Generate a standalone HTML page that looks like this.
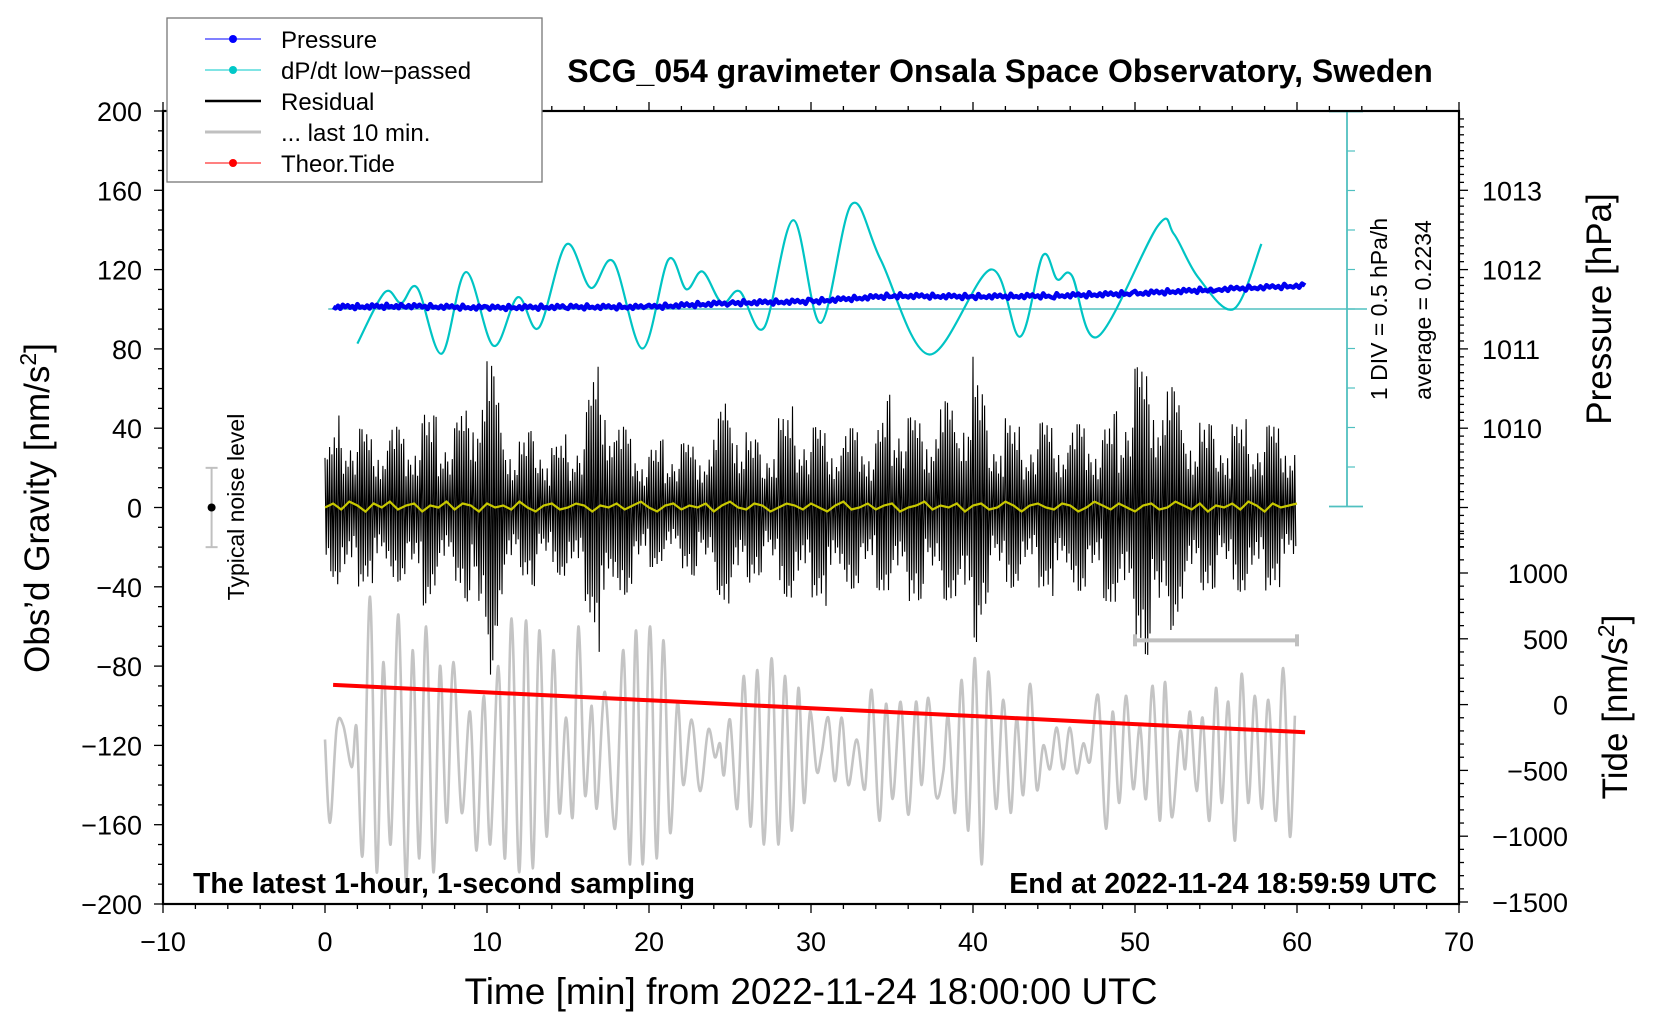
<!DOCTYPE html>
<html><head><meta charset="utf-8"><style>
html,body{margin:0;padding:0;background:#fff;}
svg{display:block;font-family:"Liberation Sans",sans-serif;}
</style></head><body>
<svg id="chart" width="1660" height="1020" viewBox="0 0 1660 1020" xmlns="http://www.w3.org/2000/svg">
<rect width="1660" height="1020" fill="#fff"/>
<g id="plot"></g>
<g id="axes"></g>
<text x="1000" y="82" text-anchor="middle" font-size="32" font-weight="bold">SCG_054 gravimeter Onsala Space Observatory, Sweden</text>
<text x="193" y="893" font-size="28.5" font-weight="bold">The latest 1-hour, 1-second sampling</text>
<text x="1437" y="893" text-anchor="end" font-size="28.5" font-weight="bold">End at 2022-11-24 18:59:59 UTC</text>
<text x="811" y="1004" text-anchor="middle" font-size="37">Time [min] from 2022-11-24 18:00:00 UTC</text>
<text transform="translate(49,508) rotate(-90)" text-anchor="middle" font-size="35">Obs’d Gravity [nm/s<tspan dy="-13" font-size="23">2</tspan><tspan dy="13">]</tspan></text>
<text transform="translate(1611,309) rotate(-90)" text-anchor="middle" font-size="35">Pressure [hPa]</text>
<text transform="translate(1627,707) rotate(-90)" text-anchor="middle" font-size="35">Tide [nm/s<tspan dy="-13" font-size="23">2</tspan><tspan dy="13">]</tspan></text>
<text transform="translate(1387,309) rotate(-90)" text-anchor="middle" font-size="23">1 DIV = 0.5 hPa/h</text>
<text transform="translate(1431,310) rotate(-90)" text-anchor="middle" font-size="23">average = 0.2234</text>
<text transform="translate(244,507) rotate(-90)" text-anchor="middle" font-size="23">Typical noise level</text>
<g>
<rect x="167" y="18" width="375" height="164" fill="#fff" stroke="#777" stroke-width="1.3"/>
<g><line x1="205" y1="39" x2="261" y2="39" stroke="#00f" stroke-width="1"/><circle cx="233" cy="39" r="4" fill="#00f"/><text x="281" y="48" font-size="24">Pressure</text></g>
<g><line x1="205" y1="70" x2="261" y2="70" stroke="#00c8c8" stroke-width="1"/><circle cx="233" cy="70" r="4" fill="#00c8c8"/><text x="281" y="79" font-size="24">dP/dt low−passed</text></g>
<g><line x1="205" y1="101" x2="261" y2="101" stroke="#000" stroke-width="2.5"/><text x="281" y="110" font-size="24">Residual</text></g>
<g><line x1="205" y1="132" x2="261" y2="132" stroke="#c0c0c0" stroke-width="3"/><text x="281" y="141" font-size="24">... last 10 min.</text></g>
<g><line x1="205" y1="163" x2="261" y2="163" stroke="#f00" stroke-width="1"/><circle cx="233" cy="163" r="4" fill="#f00"/><text x="281" y="172" font-size="24">Theor.Tide</text></g>
</g>
</svg>
<script>
// ---- data ----
const resMinutes = [0,1,2,3,4,5,6,7,8,9,10,11,12,13,14,15,16,17,18,19,20,21,22,23,24,25,26,27,28,29,30,31,32,33,34,35,36,37,38,39,40,41,42,43,44,45,46,47,48,49,50,51,52,53,54,55,56,57,58,59,60];
const resTop = [25,50,40,38,45,35,50,45,40,60,82,45,35,40,30,38,42,85,45,35,30,35,32,35,38,62,40,30,45,52,40,42,40,40,38,60,45,48,55,50,80,40,45,40,42,45,42,42,40,50,70,75,65,50,45,40,42,45,40,45,40];
const resBot = [-25,-45,-40,-38,-40,-35,-50,-42,-38,-50,-95,-45,-35,-40,-30,-38,-45,-75,-48,-40,-30,-30,-32,-35,-38,-55,-42,-32,-40,-50,-45,-50,-42,-40,-40,-48,-50,-45,-45,-50,-80,-40,-42,-38,-40,-45,-42,-42,-45,-55,-72,-75,-65,-50,-45,-40,-40,-45,-42,-40,-35];
const yelVals = [0,2,-1,3,1,-2,2,0,3,-1,1,2,-2,1,0,3,-1,2,1,-2,2,0,1,-1,3,0,-2,1,2,-1,0,2,1,-2,1,0,2,-1,1,3,0,-2,1,2,-1,1,0,2,-2,1,3,0,-1,2,1,-2,0,2,1,-1,2,0,-2,1,3,-1,0,2,-1,1,2,-2,0,1,3,-1,1,0,2,-2,1,2,-1,0,3,1,-2,1,2,0,-1,2,1,-2,0,3,1,-1,2,0,-2,1,2,-1,0,3,1,-1,2,-2,1,0,2,-1,3,1,-2,2,0,1,2];
const pressT = [0.5,5,10,15,20,25,30,35,40,45,50,55,60.5];
const pressV = [1011.53,1011.54,1011.52,1011.53,1011.53,1011.58,1011.6,1011.67,1011.66,1011.67,1011.7,1011.75,1011.8];
const dpdtT = [2.0,3.7,4.7,5.7,7.2,8.7,10.4,11.9,13.2,14.9,16.4,17.8,19.6,21.2,22.3,23.3,24.5,25.6,27.1,28.9,30.6,32.5,34.3,37.3,41.1,42.9,44.3,45.2,46.1,47.7,51.4,52.4,53.9,56.1,57.8];
const dpdtV = [-0.214,0.436,0.298,0.491,-0.342,0.691,-0.242,0.373,-0.014,1.041,0.491,0.823,-0.277,0.848,0.473,0.698,0.298,0.448,-0.014,1.348,0.048,1.548,0.848,-0.352,0.723,-0.127,0.898,0.598,0.648,-0.127,1.273,1.173,0.623,0.223,1.048];
const dpdtAvg = 0.2234;
const tideT = [0.5,10,20,30,40,50,60.5];
const tideV = [150,93,33,-27,-87,-148,-210];
const greyT = [0,0.31,0.72,1.13,1.65,1.95,2.33,2.78,3.19,3.6,4.05,4.53,5.0,5.41,5.82,6.24,6.69,7.1,7.51,7.92,8.44,8.95,9.36,9.8,10.2,10.7,11.11,11.52,11.99,12.41,12.82,13.23,13.68,14.1,14.47,14.88,15.29,15.64,16.05,16.46,16.77,17.28,17.9,18.42,18.83,19.2,19.61,20.06,20.47,20.88,21.3,21.75,22.12,22.63,23.15,23.66,24.07,24.38,24.63,25.0,25.45,25.86,26.28,26.69,27.1,27.57,27.98,28.39,28.81,29.22,29.57,29.94,30.35,30.66,31.07,31.48,31.89,32.3,32.82,33.33,33.74,34.22,34.63,35.04,35.53,36.01,36.48,36.83,37.24,37.71,38.17,38.47,38.89,39.3,39.71,40.12,40.53,40.94,41.42,41.87,42.32,42.69,43.1,43.52,43.93,44.34,44.75,45.16,45.57,45.98,46.4,46.81,47.22,47.73,48.21,48.62,49.03,49.44,49.89,50.3,50.68,51.09,51.54,51.85,52.26,52.78,53.09,53.4,53.81,54.17,54.59,55.0,55.35,55.76,56.17,56.58,56.99,57.4,57.82,58.23,58.7,59.15,59.56,59.87];
const greyG = [-117,-159,-111,-110,-131,-111,-175,-45,-184,-78,-170,-54,-189,-72,-177,-60,-184,-80,-159,-78,-154,-103,-173,-95,-170,-80,-177,-56,-184,-57,-182,-62,-166,-72,-154,-106,-156,-60,-145,-100,-152,-93,-162,-72,-180,-62,-180,-60,-177,-67,-164,-98,-140,-107,-143,-112,-126,-119,-135,-107,-152,-85,-161,-82,-170,-76,-170,-85,-163,-91,-149,-103,-133,-124,-106,-138,-106,-140,-117,-142,-92,-158,-99,-147,-98,-155,-98,-140,-96,-145,-133,-105,-154,-87,-163,-76,-180,-83,-152,-97,-154,-106,-145,-89,-142,-120,-132,-111,-132,-111,-134,-119,-128,-95,-162,-103,-149,-95,-142,-110,-147,-90,-158,-88,-156,-113,-132,-103,-143,-106,-158,-91,-149,-98,-168,-84,-149,-95,-152,-97,-158,-81,-166,-105];
const xTicks = [-10,0,10,20,30,40,50,60,70];
const yTicks = [-200,-160,-120,-80,-40,0,40,80,120,160,200];
const pTicks = [1010,1011,1012,1013];
const tideTicks = [-1500,-1000,-500,0,500,1000];

// ---- scales ----
const L=163,R=1459,T=111,B=904;
const X = t => L + (t + 10) * (R - L) / 80;
const Y = g => T + (200 - g) * (B - T) / 400;
const YP = p => Y((p - 1009) * 40);
const YT = v => 704.6 - v * 0.1316;
const YD = v => 309 - (v - dpdtAvg) / 0.5 * 39.5;

const NS='http://www.w3.org/2000/svg';
const plot=document.getElementById('plot'), axes=document.getElementById('axes');
function mk(tag, attrs, parent){const e=document.createElementNS(NS,tag);for(const k in attrs)e.setAttribute(k,attrs[k]);parent.appendChild(e);return e;}
function smooth(pts){let d='M'+pts[0][0].toFixed(1)+','+pts[0][1].toFixed(1);
 for(let i=0;i<pts.length-1;i++){const p0=pts[Math.max(0,i-1)],p1=pts[i],p2=pts[i+1],p3=pts[Math.min(pts.length-1,i+2)];
  const c1=[p1[0]+(p2[0]-p0[0])/6,p1[1]+(p2[1]-p0[1])/6],c2=[p2[0]-(p3[0]-p1[0])/6,p2[1]-(p3[1]-p1[1])/6];
  d+=' C'+c1[0].toFixed(1)+','+c1[1].toFixed(1)+' '+c2[0].toFixed(1)+','+c2[1].toFixed(1)+' '+p2[0].toFixed(1)+','+p2[1].toFixed(1);}
 return d;}

// grey last-10-min
let gp=mk('path',{d:smooth(greyT.map((t,i)=>[X(t),Y(greyG[i])])),fill:'none',stroke:'#c4c4c4','stroke-width':2.6},plot);



// residual
const pat=[1,0.55,0.85,0.4,0.95,0.6,0.75,0.35,0.9,0.5,0.7,0.45,1,0.65];
let rpts=[];
for(let i=0;i<resMinutes.length-1;i++){
 for(let k=0;k<14;k++){const f=k/14;const t=resMinutes[i]+f;
  const top=resTop[i]+(resTop[i+1]-resTop[i])*f, bot=resBot[i]+(resBot[i+1]-resBot[i])*f;
  const m=pat[(k+i*5)%pat.length];
  const v=(k%2===0)?top*m:bot*pat[(k+i*3+7)%pat.length];
  rpts.push(X(t).toFixed(1)+','+Y(v).toFixed(1));}}
let rp=mk('polyline',{points:rpts.join(' '),fill:'none',stroke:'#000','stroke-width':1.1},plot);



// yellow smoothed residual
let yp=mk('polyline',{points:yelVals.map((v,i)=>X(i*0.5).toFixed(1)+','+Y(v).toFixed(1)).join(' '),fill:'none',stroke:'#c8c800','stroke-width':2.2},plot);



// tide
let tp=mk('polyline',{points:tideT.map((t,i)=>X(t).toFixed(1)+','+YT(tideV[i]).toFixed(1)).join(' '),fill:'none',stroke:'#f00','stroke-width':4},plot);



// dpdt average line and axis
let al=mk('line',{x1:X(0.2),y1:YD(dpdtAvg),x2:1367,y2:YD(dpdtAvg),stroke:'#50c0c0','stroke-width':1.5},plot);


let dax=mk('g',{},plot);


mk('line',{x1:1347,y1:YD(dpdtAvg+2.5),x2:1347,y2:YD(dpdtAvg-2.5),stroke:'#50c0c0','stroke-width':1.8},dax);
for(let k=-5;k<=5;k++){const y=YD(dpdtAvg+k*0.5);
 if(k===-5||k===5) mk('line',{x1:1329,y1:y,x2:1363,y2:y,stroke:'#50c0c0','stroke-width':1.8},dax);
 else mk('line',{x1:1347,y1:y,x2:1355,y2:y,stroke:'#50c0c0','stroke-width':1.2},dax);}

// dpdt curve
let dp=mk('path',{d:smooth(dpdtT.map((t,i)=>[X(t),YD(dpdtV[i])])),fill:'none',stroke:'#00c4c4','stroke-width':2.2},plot);



// pressure
const jit=[0,1.5,-1,2,-2,0.5,-1.5,1,-0.5,2.5,-2.5,1];
let ppts=[];
for(let i=0;i<pressT.length-1;i++){for(let k=0;k<30;k++){const f=k/30;const t=pressT[i]+(pressT[i+1]-pressT[i])*f;
 const p=pressV[i]+(pressV[i+1]-pressV[i])*f;ppts.push(X(t).toFixed(1)+','+(YP(p)+jit[(k+i)%jit.length]).toFixed(1));}}
ppts.push(X(pressT[pressT.length-1]).toFixed(1)+','+YP(pressV[pressV.length-1]).toFixed(1));
let pp=mk('polyline',{points:ppts.join(' '),fill:'none',stroke:'#0000f0','stroke-width':4.5,'stroke-linejoin':'round'},plot);



// noise level bar
let nb=mk('g',{},plot);


mk('line',{x1:X(-7),y1:Y(20),x2:X(-7),y2:Y(-20),stroke:'#c0c0c0','stroke-width':2},nb);
mk('line',{x1:X(-7)-6,y1:Y(20),x2:X(-7)+6,y2:Y(20),stroke:'#c0c0c0','stroke-width':2},nb);
mk('line',{x1:X(-7)-6,y1:Y(-20),x2:X(-7)+6,y2:Y(-20),stroke:'#c0c0c0','stroke-width':2},nb);
mk('circle',{cx:X(-7),cy:Y(0),r:4,fill:'#000'},nb);

// 10-min scale bar
let sb=mk('g',{},plot);


mk('line',{x1:X(50),y1:Y(-67),x2:X(60),y2:Y(-67),stroke:'#c0c0c0','stroke-width':4},sb);
mk('line',{x1:X(50),y1:Y(-67)-6,x2:X(50),y2:Y(-67)+6,stroke:'#c0c0c0','stroke-width':4},sb);
mk('line',{x1:X(60),y1:Y(-67)-6,x2:X(60),y2:Y(-67)+6,stroke:'#c0c0c0','stroke-width':4},sb);

// frame
mk('rect',{x:L,y:T,width:R-L,height:B-T,fill:'none',stroke:'#000','stroke-width':2.2},axes);
// x ticks
for(let t=-10;t<=70;t+=2){const maj=(t%10===0);
 mk('line',{x1:X(t),y1:B,x2:X(t),y2:B+(maj?9:5),stroke:'#000','stroke-width':1.3},axes);
 mk('line',{x1:X(t),y1:T,x2:X(t),y2:T-(maj?9:5),stroke:'#000','stroke-width':1.3},axes);}
xTicks.forEach(t=>{let e=mk('text',{x:X(t),y:951,'text-anchor':'middle','font-size':27},axes);e.textContent=(t<0?'−':'')+Math.abs(t);
 
 });
// y ticks
for(let g=-200;g<=200;g+=10){const maj=(g%40===0);
 mk('line',{x1:L,y1:Y(g),x2:L-(maj?9:5),y2:Y(g),stroke:'#000','stroke-width':1.3},axes);}
yTicks.forEach(g=>{let e=mk('text',{x:142,y:Y(g)+10,'text-anchor':'end','font-size':27},axes);e.textContent=(g<0?'−':'')+Math.abs(g);
 
 });
// pressure ticks
for(let i=0;i<=54;i++){const p=1008.5+i*0.1;const maj=Math.abs(p-Math.round(p))<0.01;
 mk('line',{x1:R,y1:YP(p),x2:R+(maj?9:5),y2:YP(p),stroke:'#000','stroke-width':1.3},axes);}
pTicks.forEach(p=>{let e=mk('text',{x:1482,y:YP(p)+10,'font-size':27},axes);e.textContent=p;
 
 });
// tide ticks
for(let v=-1500;v<=1300;v+=100){const maj=(v%500===0);
 mk('line',{x1:R,y1:YT(v),x2:R+(maj?9:5),y2:YT(v),stroke:'#000','stroke-width':1.3},axes);}
tideTicks.forEach(v=>{let e=mk('text',{x:1568,y:YT(v)+10,'text-anchor':'end','font-size':27},axes);e.textContent=(v<0?'−':'')+Math.abs(v);
 
 });
</script>
</body></html>
